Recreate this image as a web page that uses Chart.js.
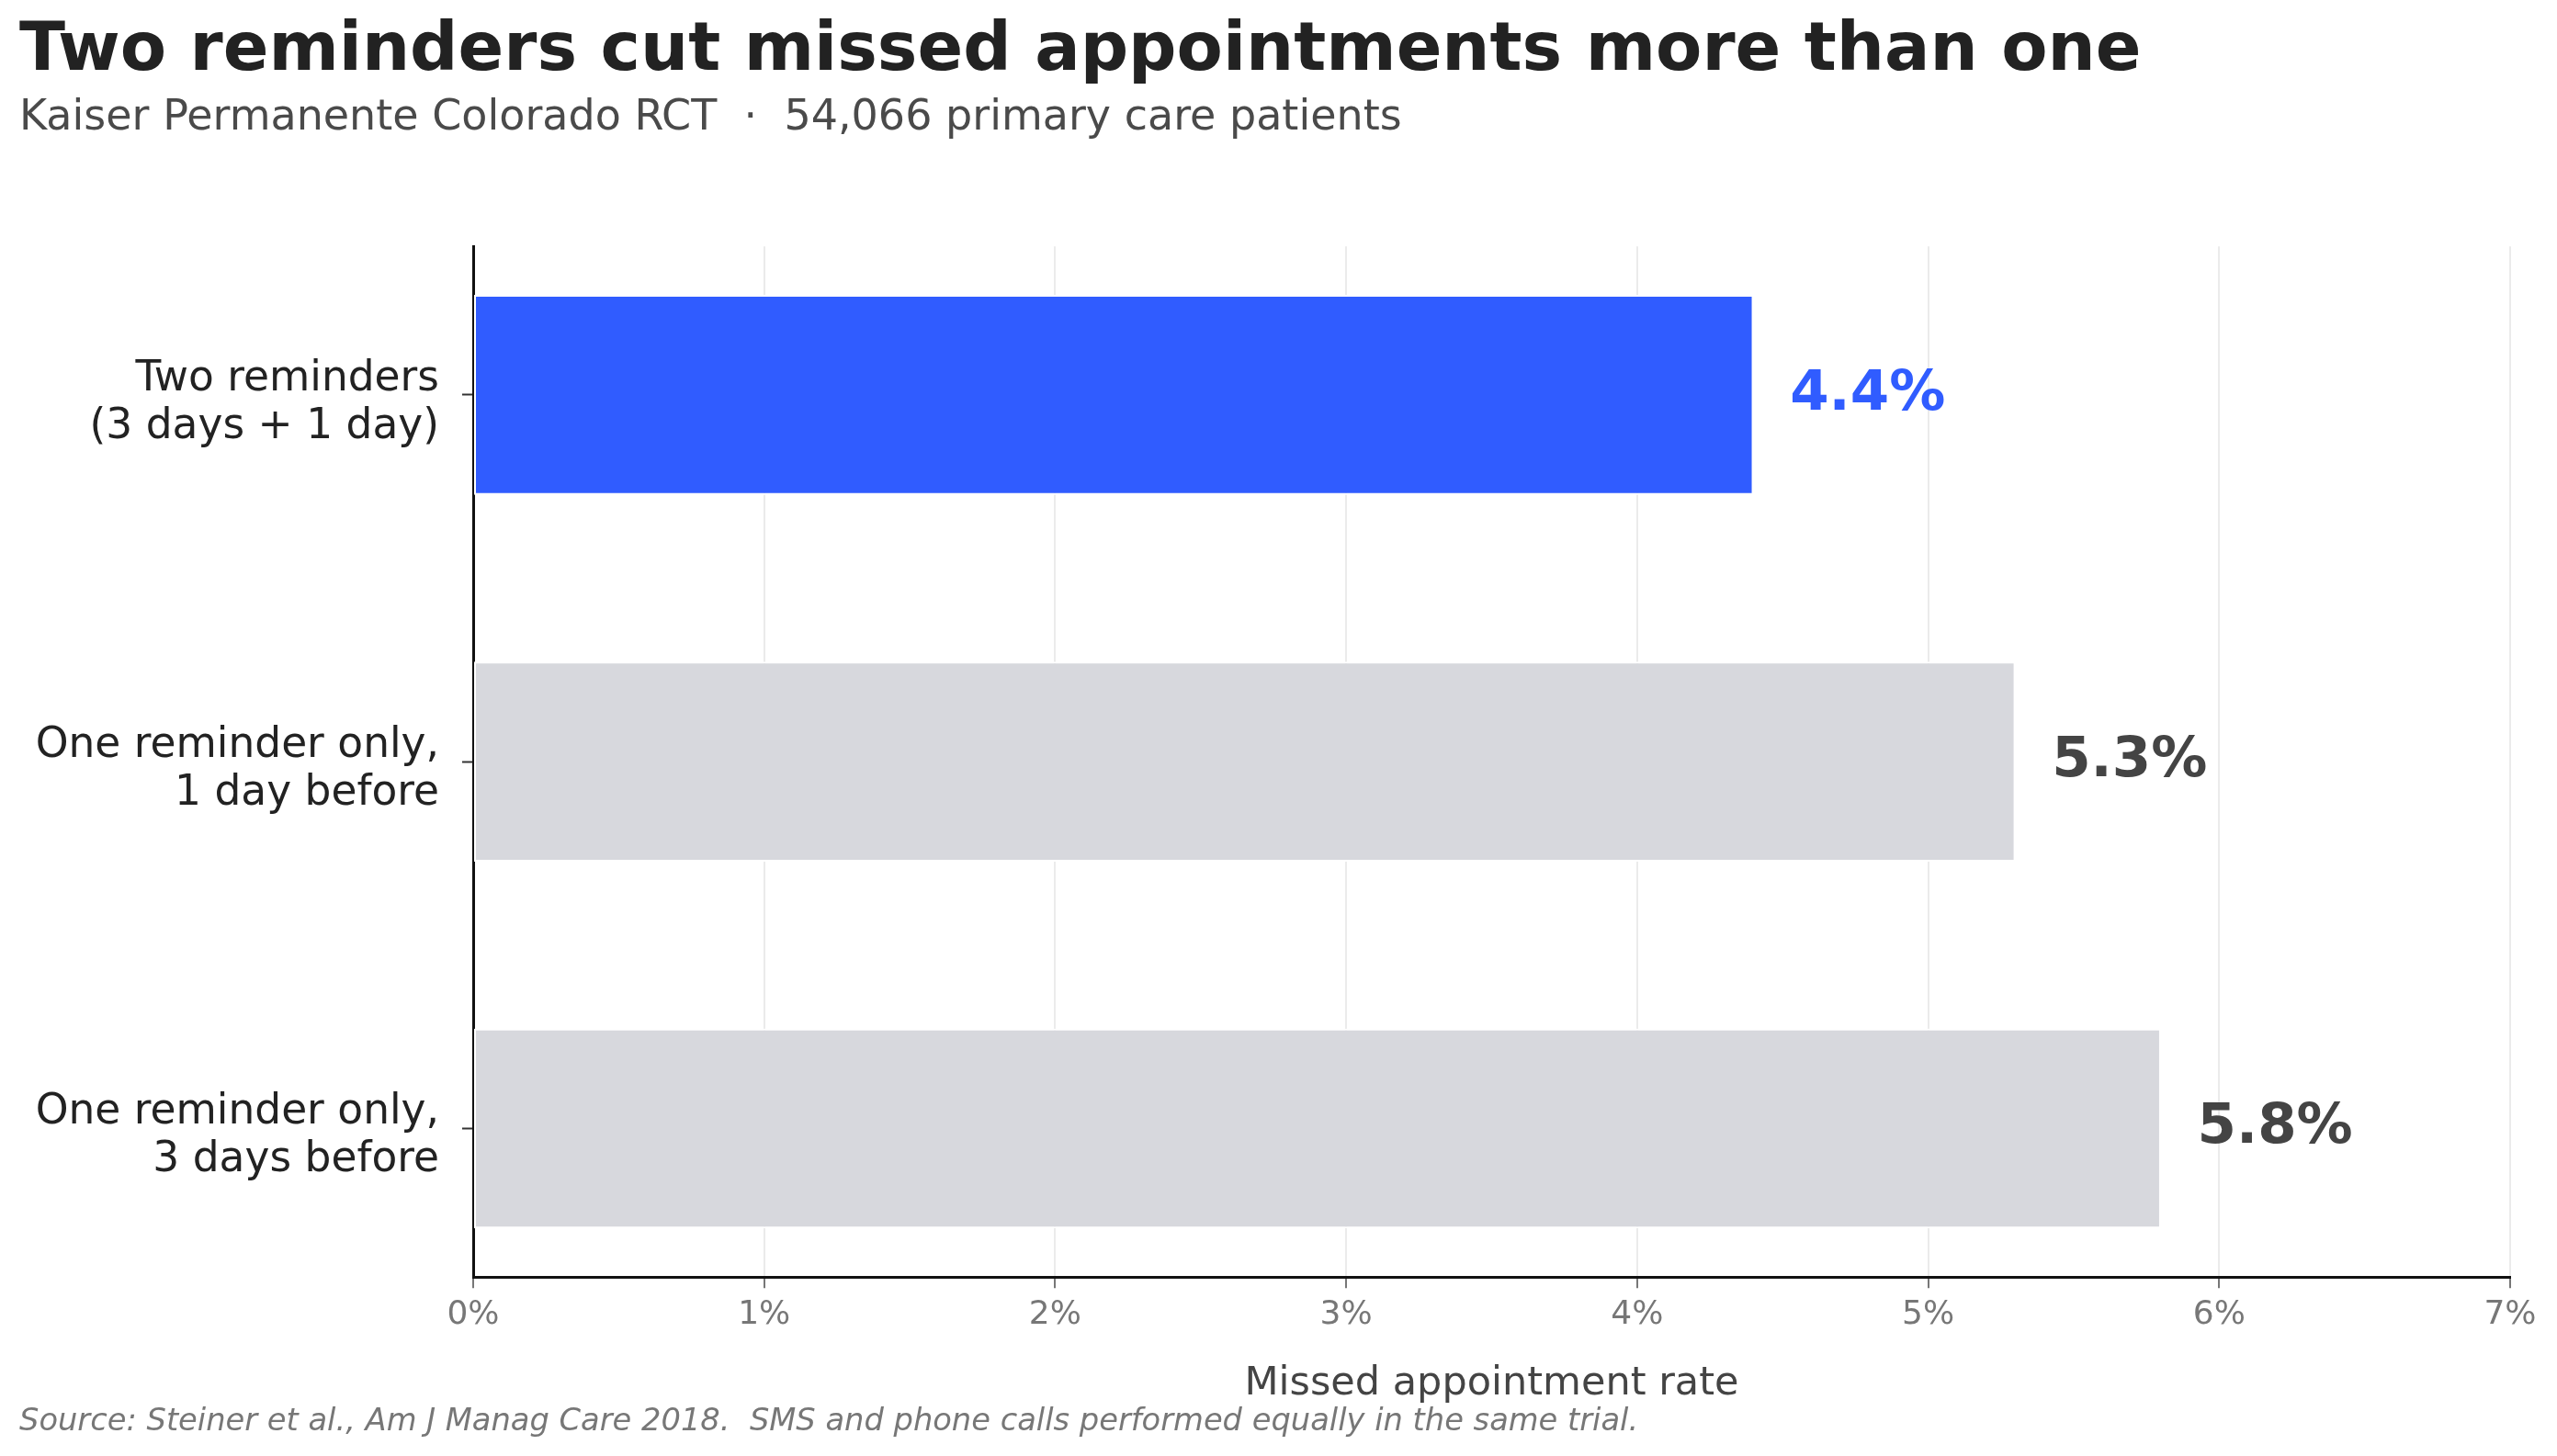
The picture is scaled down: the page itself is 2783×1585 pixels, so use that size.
<!DOCTYPE html>
<html>
<head>
<meta charset="utf-8">
<script src="https://cdn.jsdelivr.net/npm/chart.js@4.4.1/dist/chart.umd.min.js"></script>
<style>
  html, body { margin: 0; padding: 0; background: #ffffff; }
  #chart { display: block; }
</style>
</head>
<body>
<canvas id="chart" width="2783" height="1585" style="width:2783px;height:1585px"></canvas>
<script>
// data
var categories = [
  ["Two reminders", "(3 days + 1 day)"],
  ["One reminder only,", "1 day before"],
  ["One reminder only,", "3 days before"]
];
var rates = [4.4, 5.3, 5.8];
var valueLabels = ["4.4%", "5.3%", "5.8%"];
var xTicks = [0, 1, 2, 3, 4, 5, 6, 7];

var barColors = ["#305cff", "#d7d8dd", "#d7d8dd"];
var labelColors = ["#305cff", "#444444", "#444444"];

Chart.defaults.font.family = "'DejaVu Sans', sans-serif";

// value labels drawn just right of each bar
var valueLabelPlugin = {
  id: 'valueLabels',
  afterDatasetsDraw: function(chart) {
    var ctx = chart.ctx;
    var xs = chart.scales.x;
    var meta = chart.getDatasetMeta(0);
    ctx.save();
    ctx.font = "bold 61px 'DejaVu Sans'";
    ctx.textAlign = 'left';
    ctx.textBaseline = 'middle';
    meta.data.forEach(function(bar, i) {
      ctx.fillStyle = labelColors[i];
      ctx.fillText(valueLabels[i], xs.getPixelForValue(rates[i] + 0.125), bar.y);
    });
    ctx.restore();
  }
};

// footnote at the bottom left
var sourcePlugin = {
  id: 'sourceNote',
  afterDraw: function(chart) {
    var ctx = chart.ctx;
    ctx.save();
    ctx.font = "italic 33.7px 'DejaVu Sans'";
    ctx.fillStyle = '#777777';
    ctx.textAlign = 'left';
    ctx.textBaseline = 'middle';
    ctx.fillText("Source: Steiner et al., Am J Manag Care 2018.  SMS and phone calls performed equally in the same trial.", 21, 1548);
    ctx.restore();
  }
};

var ctx = document.getElementById('chart');
new Chart(ctx, {
  type: 'bar',
  data: {
    datasets: [{
      data: categories.map(function(c, i) { return { x: rates[i], y: i }; }),
      backgroundColor: barColors,
      borderColor: '#ffffff',
      borderWidth: 2,
      borderSkipped: false,
      barPercentage: 0.545,
      categoryPercentage: 1.0
    }]
  },
  options: {
    indexAxis: 'y',
    responsive: false,
    devicePixelRatio: 1,
    animation: false,
    layout: { padding: { left: 21, right: 51, top: 0, bottom: 52 } },
    plugins: {
      legend: { display: false },
      tooltip: { enabled: false },
      title: {
        display: true,
        text: 'Two reminders cut missed appointments more than one',
        align: 'start',
        color: '#222222',
        font: { size: 73.3, weight: 'bold' },
        padding: { top: 13, bottom: 0 }
      },
      subtitle: {
        display: true,
        text: 'Kaiser Permanente Colorado RCT  \u00b7  54,066 primary care patients',
        align: 'start',
        color: '#4a4a4a',
        font: { size: 46 },
        padding: { top: 0, bottom: 112 }
      }
    },
    scales: {
      x: {
        type: 'linear',
        min: 0,
        max: 7,
        afterBuildTicks: function(scale) {
          scale.ticks = xTicks.map(function(v) { return { value: v }; });
        },
        ticks: {
          color: '#777777',
          font: { size: 36 },
          padding: 8,
          callback: function(v) { return v + '%'; }
        },
        grid: {
          color: '#ebebeb',
          lineWidth: 2,
          tickColor: '#777777',
          tickLength: 12,
          tickWidth: 2
        },
        border: { display: true, color: '#111111', width: 3 },
        title: {
          display: true,
          text: 'Missed appointment rate',
          color: '#444444',
          font: { size: 43 },
          padding: { top: 20, bottom: 0 }
        }
      },
      y: {
        type: 'linear',
        reverse: true,
        offset: false,
        min: -0.405,
        max: 2.405,
        afterBuildTicks: function(scale) {
          scale.ticks = categories.map(function(c, i) { return { value: i }; });
        },
        afterFit: function(scale) {
          scale.width = 494;
        },
        ticks: {
          color: '#222222',
          font: { size: 45.5, lineHeight: 1.14 },
          padding: 25,
          labelOffset: 9,
          autoSkip: false,
          callback: function(v) { return categories[v]; }
        },
        grid: {
          offset: false,
          drawOnChartArea: false,
          drawTicks: true,
          tickLength: 12,
          tickWidth: 2,
          tickColor: '#333333'
        },
        border: { display: true, color: '#111111', width: 3 }
      }
    }
  },
  plugins: [valueLabelPlugin, sourcePlugin]
});
</script>
</body>
</html>
